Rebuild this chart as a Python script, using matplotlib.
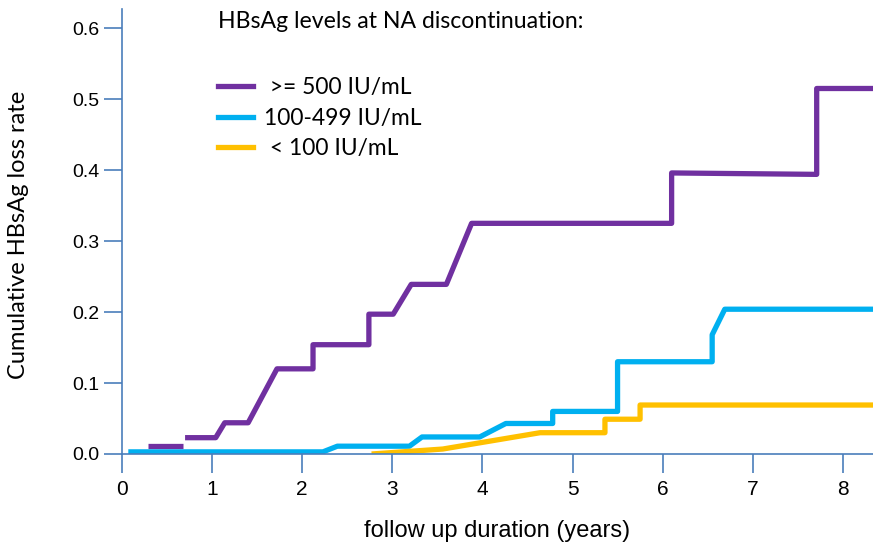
import matplotlib
matplotlib.use("Agg")
import matplotlib.pyplot as plt
from matplotlib.lines import Line2D

# curves (years, cumulative loss rate)
series_names = [">= 500 IU/mL", "100-499 IU/mL", "< 100 IU/mL"]
series_colors = ["#7030A0", "#00B0F0", "#FFC000"]

high_x = [0.29, 0.68]
high_y = [0.011, 0.011]
high2_x = [0.70, 1.04, 1.14, 1.40, 1.72, 2.12, 2.12, 2.74, 2.74, 3.01, 3.21, 3.60,
           3.88, 6.10, 6.10, 7.71, 7.71, 8.34]
high2_y = [0.023, 0.023, 0.044, 0.044, 0.120, 0.120, 0.154, 0.154, 0.197, 0.197,
           0.239, 0.239, 0.325, 0.325, 0.396, 0.394, 0.515, 0.515]

mid_x = [0.07, 2.23, 2.39, 3.19, 3.33, 3.97, 4.26, 4.78, 4.78, 5.50, 5.50, 6.55,
         6.55, 6.69, 8.34]
mid_y = [0.003, 0.003, 0.011, 0.011, 0.024, 0.024, 0.043, 0.043, 0.060, 0.060,
         0.130, 0.130, 0.168, 0.204, 0.204]

low_x = [2.77, 3.56, 4.64, 5.36, 5.36, 5.75, 5.75, 8.34]
low_y = [0.0, 0.007, 0.030, 0.030, 0.049, 0.049, 0.069, 0.069]

x_ticks = [0, 1, 2, 3, 4, 5, 6, 7, 8]
y_ticks = [0.0, 0.1, 0.2, 0.3, 0.4, 0.5, 0.6]

axis_col = "#4A7EBB"
lw = 3.8

fig = plt.figure(figsize=(8.73, 5.48), dpi=100)
ax = fig.add_axes([122 / 873, 94 / 548, 1 - 122 / 873, 445 / 548])

ax.plot(high_x, high_y, color=series_colors[0], lw=lw, solid_capstyle="butt")
ax.plot(high2_x, high2_y, color=series_colors[0], lw=lw, solid_capstyle="butt")
ax.plot(mid_x, mid_y, color=series_colors[1], lw=lw, solid_capstyle="butt")
ax.plot(low_x, low_y, color=series_colors[2], lw=lw, solid_capstyle="butt")

ax.set_xlim(0, 8.335)
ax.set_ylim(0, 0.627)
for s in ["top", "right"]:
    ax.spines[s].set_visible(False)
for s in ["left", "bottom"]:
    ax.spines[s].set_color(axis_col)
    ax.spines[s].set_linewidth(1.2)

ax.set_xticks(x_ticks)
ax.set_yticks(y_ticks)
ax.set_yticklabels([f"{v:.1f}" for v in y_ticks], fontsize=14,
                   family="Liberation Sans")
ax.set_xticklabels([str(v) for v in x_ticks], fontsize=15,
                   family="Liberation Sans")
ax.tick_params(axis="both", color=axis_col, width=1.2, length=13, pad=3)
ax.tick_params(axis="x", length=13.5, pad=5)

ax.set_xlabel("follow up duration (years)", fontsize=17,
              family="Liberation Sans", labelpad=15)
fig.text(19 / 873, 1 - 235 / 548, "Cumulative HBsAg loss rate", rotation=90,
         fontsize=17, family=["Lato", "DejaVu Sans"], ha="center", va="center")

# legend
fig.text(218 / 873, 1 - 22 / 548, "HBsAg levels at NA discontinuation:",
         fontsize=16.6, family=["Lato", "DejaVu Sans"], ha="left", va="center")
handles = [Line2D([], [], color=c, lw=lw) for c in series_colors]
labels = [" " + series_names[0], series_names[1], " " + series_names[2]]
leg = ax.legend(handles, labels, loc="upper left",
                bbox_to_anchor=(218 / 873, 1 - 77 / 548),
                bbox_transform=fig.transFigure, frameon=False,
                prop={"family": ["Lato", "DejaVu Sans"], "size": 16.4},
                handlelength=1.55, handletextpad=0.45, labelspacing=0.42,
                borderpad=0, borderaxespad=0)

fig.savefig("out.png", dpi=100)
